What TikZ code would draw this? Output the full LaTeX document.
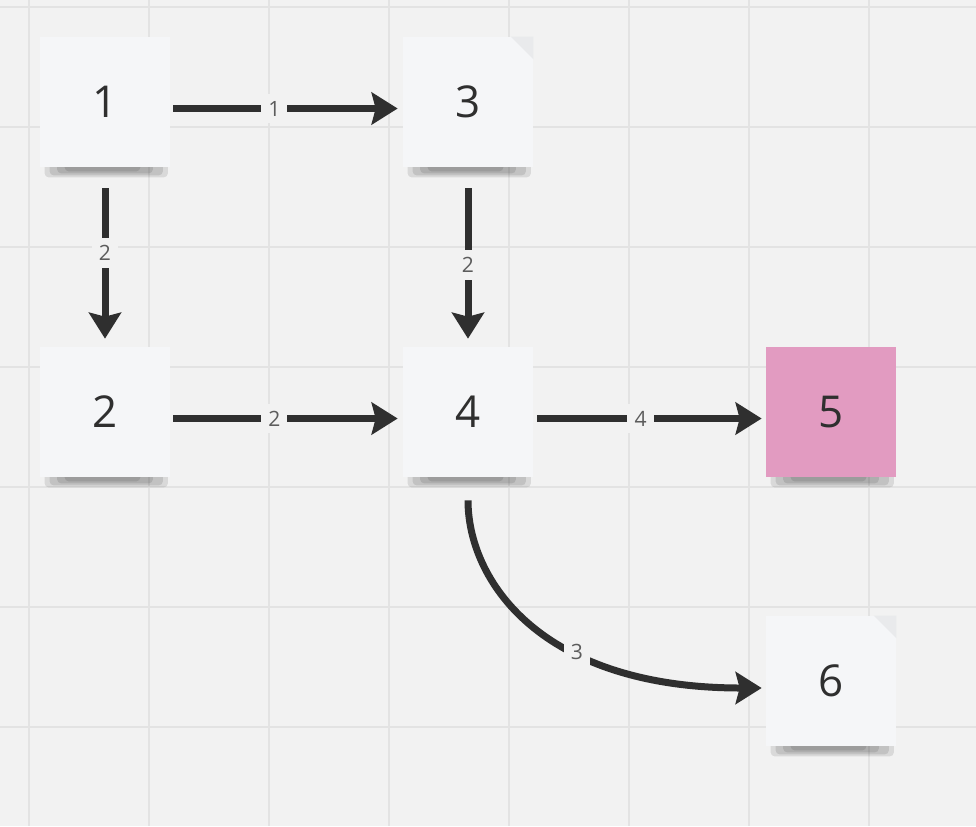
\documentclass[tikz,border=0pt]{standalone}
\usepackage{fontspec}
\setmainfont{Open Sans}
\usetikzlibrary{arrows.meta}
\definecolor{boardbg}{HTML}{F2F2F2}
\definecolor{gridline}{HTML}{E3E3E3}
\definecolor{notewhite}{HTML}{F5F6F8}
\definecolor{notepink}{HTML}{E29BC1}
\definecolor{inkdark}{HTML}{2F2F2F}
\definecolor{labelgray}{HTML}{5C5C5C}

\begin{document}
\begin{tikzpicture}[
	x=0.02cm, y=-0.02cm,
	sticky/.style={minimum width=2.6cm, minimum height=2.6cm, inner sep=0pt, fill=notewhite, text=inkdark, font=\fontsize{25}{30}\selectfont},
	flow/.style={draw=inkdark, line width=0.14cm, -{Stealth[length=0.52cm, width=0.64cm, inset=0.08cm]}},
	weight/.style={fill=boardbg, text=labelgray, inner sep=4pt, font=\fontsize{12}{14}\selectfont},
	shadowstrip/.style={fill=black, opacity=0.1, rounded corners=0.08cm}
	]
	
	% --- BOARD ---
	\useasboundingbox (0,0) rectangle (976,826);
	\fill[boardbg] (0,0) rectangle (976,826);
	\foreach \gx in {29,149,...,869}
		\draw[gridline, line width=0.04cm] (\gx,0) -- (\gx,826);
	\foreach \gy in {7,127,...,727}
		\draw[gridline, line width=0.04cm] (0,\gy) -- (976,\gy);
	
	% --- NOTES ---
	\node[sticky] (n1) at (105,102) {1};
	\node[sticky] (n3) at (468,102) {3};
	\node[sticky] (n2) at (105,412) {2};
	\node[sticky] (n4) at (468,412) {4};
	\node[sticky, fill=notepink] (n5) at (831,412) {5};
	\node[sticky] (n6) at (831,681) {6};
	
	% folded corners
	\foreach \n in {n3,n6}
		\fill[notewhite!95!black] (\n.north east) -- ([xshift=-0.45cm]\n.north east) -- ([yshift=-0.45cm]\n.north east) -- cycle;
	
	% soft shadows under the notes
	\foreach \n in {n1,n2,n3,n4,n5,n6} {
		\fill[shadowstrip] ([xshift=0.1cm, yshift=0.1cm]\n.south west) rectangle ([xshift=-0.05cm, yshift=-0.2cm]\n.south east);
		\fill[shadowstrip] ([xshift=0.2cm, yshift=0.1cm]\n.south west) rectangle ([xshift=-0.15cm, yshift=-0.16cm]\n.south east);
		\fill[shadowstrip] ([xshift=0.35cm, yshift=0.1cm]\n.south west) rectangle ([xshift=-0.35cm, yshift=-0.12cm]\n.south east);
		\fill[shadowstrip] ([xshift=0.5cm, yshift=0.1cm]\n.south west) rectangle ([xshift=-0.6cm, yshift=-0.08cm]\n.south east);
	}
	% notes drawn again over the top of the strips
	\foreach \n in {n1,n2,n3,n4,n6}
		\fill[notewhite] ([yshift=0.2cm]\n.south west) rectangle (\n.south east);
	\fill[notepink] ([yshift=0.2cm]n5.south west) rectangle (n5.south east);
	
	% --- CONNECTORS ---
	\draw[flow] ([xshift=0.06cm, yshift=-0.13cm]n1.east) -- node[weight, pos=0.45] {1} ([xshift=-0.1cm, yshift=-0.13cm]n3.west);
	\draw[flow] ([yshift=-0.42cm]n1.south) -- node[weight, pos=0.43] {2} ([yshift=0.16cm]n2.north);
	\draw[flow] ([yshift=-0.42cm]n3.south) -- node[weight, pos=0.51] {2} ([yshift=0.16cm]n4.north);
	\draw[flow] ([xshift=0.06cm, yshift=-0.13cm]n2.east) -- node[weight, pos=0.45] {2} ([xshift=-0.1cm, yshift=-0.13cm]n4.west);
	\draw[flow] ([xshift=0.08cm, yshift=-0.13cm]n4.east) -- node[weight, pos=0.46] {4} ([xshift=-0.08cm, yshift=-0.13cm]n5.west);
	\draw[flow] ([yshift=-0.46cm]n4.south) .. controls (468,580) and (540,688) .. node[weight, pos=0.64] {3} ([xshift=-0.08cm, yshift=-0.14cm]n6.west);
	
\end{tikzpicture}
\end{document}
